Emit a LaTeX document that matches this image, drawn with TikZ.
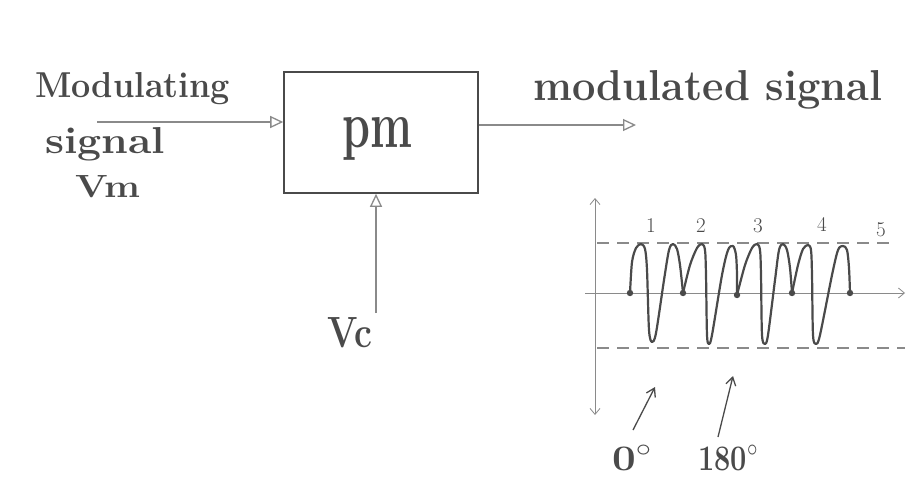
\documentclass[tikz,border=0pt]{standalone}
\usepackage{graphicx}
\usetikzlibrary{arrows.meta}
\definecolor{pencil}{HTML}{4A4A4A}
\definecolor{faint}{HTML}{8A8A8A}
\newcommand{\hw}[3]{\resizebox{#1}{#2}{#3}}
\tikzset{
  hand/.style={text=pencil, inner sep=0pt, anchor=base west, font=\fontsize{20}{24}\selectfont\bfseries},
  digit/.style={text=pencil, inner sep=0pt, anchor=base, font=\fontsize{21}{24}\selectfont},
  wire/.style={draw=faint, line width=1.1pt, -{Triangle[open, length=13pt, width=12pt, line width=1.3pt]}},
  blockbox/.style={draw=pencil, line width=1.6pt, minimum width=194pt, minimum height=121pt, inner sep=0pt},
  axis/.style={draw=faint, line width=0.8pt},
  dashline/.style={draw=faint, line width=1.3pt, dash pattern=on 12pt off 8pt},
  wave/.style={draw=pencil, line width=2.2pt, line join=round},
  dotm/.style={fill=pencil, draw=none},
  pointer/.style={draw=pencil, line width=1.3pt, -{Straight Barb[length=8pt, width=10pt, line width=1.3pt]}}
}
\begin{document}
\begin{tikzpicture}[x=1pt,y=-1pt]
\useasboundingbox[fill=white] (0,0) rectangle (909,480);
% block
\node[blockbox] (pm) at (381,132.5) {};
\node[hand] (pmlabel) at (342,147) {\hw{70pt}{30pt}{pm}};
% input
\coordinate (inS) at (97,122);
\draw[wire] (inS) -- (inS -| pm.west);
\node[hand] (lmod) at (35,97) {\hw{195pt}{25pt}{Modulating}};
\node[hand] (lsig) at (45,153) {\hw{120pt}{26pt}{signal}};
\node[hand] (lvm) at (75,197) {\hw{65pt}{22pt}{Vm}};
% output
\coordinate (outE) at (636,125);
\draw[wire] (outE -| pm.east) -- (outE);
\node[hand] (lout) at (533,100) {\hw{349pt}{30pt}{modulated signal}};
% carrier
\coordinate (vcS) at (376,313);
\draw[wire] (vcS) -- (vcS |- pm.south);
\node[hand] (lvc) at (327,347) {\hw{45pt}{30pt}{Vc}};
% graph axes
\coordinate (ytop) at (595,198);
\coordinate (ybot) at (595,415);
\coordinate (xl) at (585,293);
\coordinate (xr) at (905,293);
\draw[axis, {Straight Barb[length=6pt, width=10pt]}-{Straight Barb[length=6pt, width=10pt]}] (ytop) -- (ybot);
\draw[axis, -{Straight Barb[length=6pt, width=10pt]}] (xl) -- (xr);
\coordinate (dtl) at (597,243);
\coordinate (dtr) at (890,243);
\coordinate (dbl) at (597,348);
\coordinate (dbr) at (905,348);
\draw[dashline] (dtl) -- (dtr);
\draw[dashline] (dbl) -- (dbr);
% numbers
\node[digit] (n1) at (651,232) {1};
\node[digit] (n2) at (701,232) {2};
\node[digit] (n3) at (758,232) {3};
\node[digit] (n4) at (822,231) {4};
\node[digit] (n5) at (881,236) {5};
% waveform
\draw[wave] plot[smooth, tension=0.5] coordinates {(630,293) (632,262) (636,248) (641,244) (645,249) (647,270) (649,330) (652,342) (656,333) (664,280) (669,250) (673,244) (677,249) (680,265) (683,293)};
\draw[wave] plot[smooth, tension=0.5] coordinates {(683,293) (690,265) (697,248) (702,244) (705,250) (706,275) (707,335) (709,344) (712,335) (722,275) (728,250) (733,246) (736,255) (737,275) (737,295)};
\draw[wave] plot[smooth, tension=0.5] coordinates {(737,295) (745,265) (752,248) (757,244) (760,250) (761,275) (762,335) (765,344) (768,335) (775,280) (779,250) (783,244) (787,250) (790,268) (792,293)};
\draw[wave] plot[smooth, tension=0.5] coordinates {(792,293) (798,265) (803,249) (808,245) (811,250) (812,275) (813,335) (816,344) (820,335) (832,275) (838,250) (843,246) (847,250) (849,268) (850,293)};
\foreach \i/\x/\y in {a/630/293,b/683/293,c/737/295,d/792/293,e/850/293}
  \fill[dotm] (\x,\y) circle (3.2pt) coordinate (dot\i);
% pointers
\coordinate (p0s) at (633,430);
\coordinate (p0e) at (655,387);
\coordinate (p1s) at (718,437);
\coordinate (p1e) at (733,376);
\draw[pointer] (p0s) -- (p0e);
\draw[pointer] (p1s) -- (p1e);
\node[hand] (l0) at (612,470) {\hw{40pt}{25pt}{0$^{\circ}$}};
\node[hand] (l180) at (698,470) {\hw{60pt}{25pt}{180$^{\circ}$}};
\end{tikzpicture}
\end{document}
